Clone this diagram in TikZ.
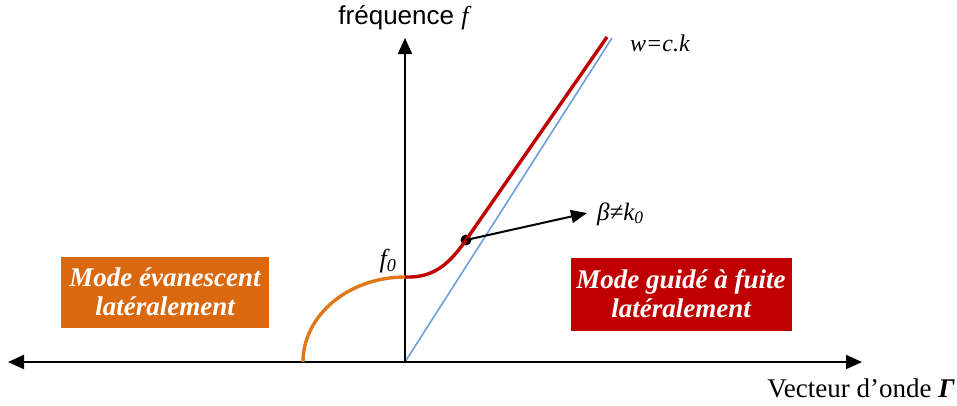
\documentclass[tikz,border=0pt]{standalone}
\usepackage{fontspec}
\setmainfont{Liberation Serif}
\newfontfamily\arialfont{Liberation Sans}
\usetikzlibrary{arrows.meta}
\definecolor{orangebox}{HTML}{D9680F}
\definecolor{orangecurve}{HTML}{E07818}
\definecolor{redmain}{HTML}{C00000}
\definecolor{bluel}{HTML}{6F9FDB}
\tikzset{
  axis/.style={line width=2pt, -{Triangle[length=16pt,width=14pt]}},
  modebox/.style={text=white, font=\fontsize{27}{29}\selectfont\bfseries\itshape, align=center, inner sep=0pt},
  lbl/.style={inner sep=0pt},
}
\begin{document}
\begin{tikzpicture}[x=1pt,y=-1pt]
\useasboundingbox (0,0) rectangle (957,405);
\coordinate (O) at (405,362);
\coordinate (L) at (8,362);
\coordinate (R) at (862,362);
\coordinate (T) at (405,38);
\coordinate (Be) at (303,362);
\coordinate (F0) at (405,277);
\coordinate (Btop) at (612,38);
\coordinate (Rtop) at (607,37);
\coordinate (Btip) at (587,213);
% boxes
\node[modebox, fill=orangebox, minimum width=208pt, minimum height=71pt] (evan) at (165,292) {Mode évanescent\\latéralement};
\node[modebox, fill=redmain, minimum width=221pt, minimum height=73pt] (guide) at (681,294) {Mode guidé à fuite\\latéralement};
% light line
\draw[bluel, line width=1.6pt] (O) -- (Btop);
% axes
\draw[axis] (O) -- (L);
\draw[axis] (O) -- (R);
\draw[axis] (O) -- (T);
% curves
\draw[orangecurve, line width=3.4pt] (Be) .. controls (303,315) and (349,277) .. (F0);
\node[circle, fill=black, inner sep=0pt, minimum size=11pt] (dot) at (466,240) {};
\draw[redmain, line width=3.4pt, line join=round] (F0) .. controls (432,278) and (448,266) .. (dot.center) -- (Rtop);
\draw[line width=2pt, -{Triangle[length=16pt,width=13pt]}] (dot.center) -- (Btip);
% labels
\node[lbl, font=\fontsize{26}{30}\selectfont] (freq) at (405,18) {\arialfont fréquence \textit{\rmfamily f}};
\node[lbl, anchor=west, font=\fontsize{24}{28}\selectfont\itshape] (wck) at (630,43) {w=c.k};
\node[lbl, anchor=west, font=\fontsize{25}{28}\selectfont\itshape] (beta) at (597,214) {β≠k\textsubscript{0}};
\node[lbl, font=\fontsize{26}{30}\selectfont\itshape] (f0) at (388,261) {f\textsubscript{0}};
\node[lbl, anchor=east, font=\fontsize{27}{30}\selectfont] (vect) at (955,388) {Vecteur d’onde \textbf{\textit{Γ}}};
\end{tikzpicture}
\end{document}
